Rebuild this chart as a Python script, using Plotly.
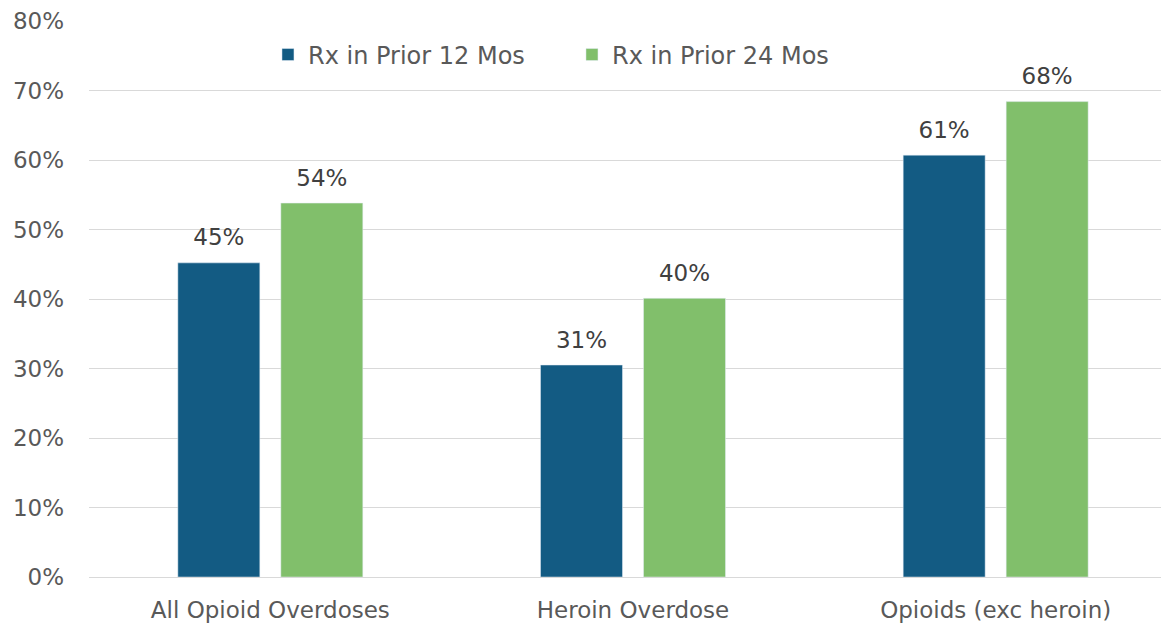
import plotly.graph_objects as go

categories = ["All Opioid Overdoses", "Heroin Overdose", "Opioids (exc heroin)"]
series_names = ["Rx in Prior 12 Mos", "Rx in Prior 24 Mos"]
rx12 = [0.452, 0.305, 0.607]
rx24 = [0.538, 0.401, 0.684]
labels12 = ["45%", "31%", "61%"]
labels24 = ["54%", "40%", "68%"]
y_ticks = [0, 0.1, 0.2, 0.3, 0.4, 0.5, 0.6, 0.7, 0.8]
y_tick_labels = ["0%", "10%", "20%", "30%", "40%", "50%", "60%", "70%", "80%"]

FONT = "DejaVu Sans"
FS = 23
colors = ["#135B83", "#81BF6B"]
BARGAP = 0.432

fig = go.Figure()
for name, vals, col, grp in [(series_names[0], rx12, colors[0], "a"), (series_names[1], rx24, colors[1], "b")]:
    fig.add_trace(go.Bar(x=categories, y=vals, name=name, marker_color=col,
                         offsetgroup=grp, hoverinfo="skip"))
for vals, labs, grp in [(rx12, labels12, "a"), (rx24, labels24, "b")]:
    fig.add_trace(go.Scatter(x=categories, y=vals, text=labs, mode="markers+text",
                             textposition="top center", offsetgroup=grp,
                             marker=dict(size=17, opacity=0),
                             textfont=dict(size=FS, color="#404040", family=FONT),
                             showlegend=False, hoverinfo="skip", cliponaxis=False))

fig.update_layout(
    width=1169, height=624,
    margin=dict(l=81, r=0, t=13, b=55),
    plot_bgcolor="white", paper_bgcolor="white",
    barmode="group", bargap=BARGAP, bargroupgap=0.204,
    scattermode="group", scattergap=BARGAP,
    font=dict(family=FONT, size=FS, color="#595959"),
    legend=dict(orientation="h", x=0.1645, y=0.939, xanchor="left", yanchor="middle",
                font=dict(size=24, color="#595959"), bgcolor="rgba(0,0,0,0)",
                traceorder="normal", entrywidth=259, entrywidthmode="pixels"),
    yaxis=dict(range=[0, 0.8], tickvals=y_ticks, ticktext=y_tick_labels,
               showgrid=True, gridcolor="#D9D9D9", gridwidth=1, zeroline=False,
               showline=False, ticks="", ticklabelstandoff=24, automargin=False,
               tickfont=dict(size=FS, color="#595959")),
    xaxis=dict(showline=True, linecolor="#D9D9D9", linewidth=1, ticks="",
               automargin=False, ticklabelstandoff=12,
               tickfont=dict(size=FS, color="#595959")),
    showlegend=True,
)
fig.write_html("out.html")
